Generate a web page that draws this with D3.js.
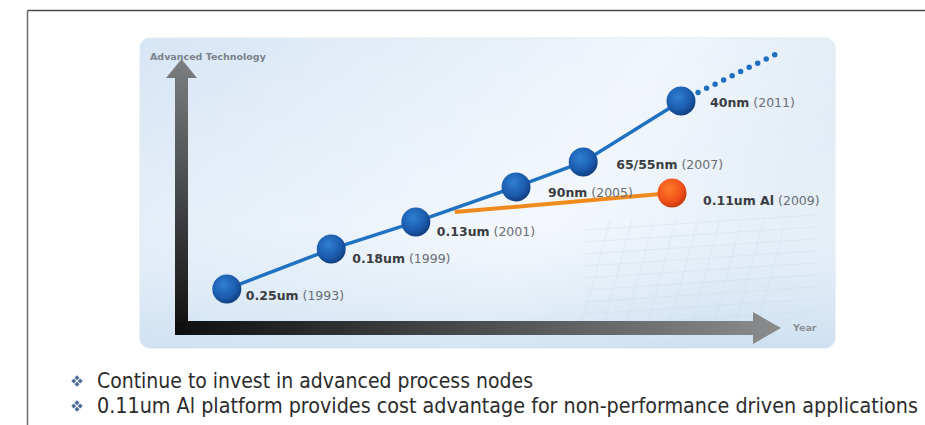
<!DOCTYPE html>
<html>
<head>
<meta charset="utf-8">
<script src="https://cdn.jsdelivr.net/npm/d3@7"></script>
<style>
  html, body { margin: 0; padding: 0; background: #ffffff; }
  svg { display: block; }
</style>
</head>
<body>
<svg id="chart" width="925" height="425"></svg>
<script>
// ---------------- DATA ----------------
const nodeNames    = ["0.25um", "0.18um", "0.13um", "90nm", "65/55nm", "40nm"];
const nodeYears    = ["(1993)", "(1999)", "(2001)", "(2005)", "(2007)", "(2011)"];
const nodeProgress = [7.8, 25.2, 39.3, 56.0, 67.2, 83.5];   // position along time axis (0-100)
const nodeLevel    = [16.4, 30.7, 40.4, 52.9, 61.8, 83.6];  // technology level (0-100)

const alName     = ["0.11um Al"];
const alYear     = ["(2009)"];
const alProgress = [45.8, 82.0];   // branch start, Al node
const alLevel    = [43.9, 50.7];

const futureProgress = [83.5, 99.7];  // dotted extension after 40nm
const futureLevel    = [83.6, 100.7];

const axisYTitle = "Advanced Technology";
const axisXTitle = "Year";
const bullets = [
  "Continue to invest in advanced process nodes",
  "0.11um Al platform provides cost advantage for non-performance driven applications"
];

// ---------------- DRAW ----------------
const svg = d3.select("#chart");
const defs = svg.append("defs");

const x = d3.scaleLinear().domain([0, 100]).range([180, 780]);
const y = d3.scaleLinear().domain([0, 100]).range([335, 55]);

// outer frame lines
svg.append("line").attr("x1", 27.5).attr("y1", 10.5).attr("x2", 925).attr("y2", 10.5)
  .attr("stroke", "#4a4a4a").attr("stroke-width", 1.5);
svg.append("line").attr("x1", 27.5).attr("y1", 10.5).attr("x2", 27.5).attr("y2", 425)
  .attr("stroke", "#6a6a6a").attr("stroke-width", 1.5);

// panel gradient
const pg = defs.append("linearGradient").attr("id", "panelH").attr("x1", 0).attr("x2", 1).attr("y1", 0).attr("y2", 0.3);
pg.append("stop").attr("offset", "0%").attr("stop-color", "#cfe0f3");
pg.append("stop").attr("offset", "35%").attr("stop-color", "#dfebf7");
pg.append("stop").attr("offset", "70%").attr("stop-color", "#eef4fa");
pg.append("stop").attr("offset", "100%").attr("stop-color", "#d9e7f4");
const pv = defs.append("linearGradient").attr("id", "panelV").attr("x1", 0).attr("x2", 0).attr("y1", 0).attr("y2", 1);
pv.append("stop").attr("offset", "0%").attr("stop-color", "#ffffff").attr("stop-opacity", 0.15);
pv.append("stop").attr("offset", "60%").attr("stop-color", "#ffffff").attr("stop-opacity", 0.35);
pv.append("stop").attr("offset", "100%").attr("stop-color", "#c6dcf0").attr("stop-opacity", 0.6);

svg.append("rect").attr("x", 140).attr("y", 38).attr("width", 695).attr("height", 310)
  .attr("rx", 10).attr("fill", "url(#panelH)").attr("stroke", "#dde7f0").attr("stroke-width", 1);
svg.append("rect").attr("x", 140).attr("y", 38).attr("width", 695).attr("height", 310)
  .attr("rx", 10).attr("fill", "url(#panelV)");

// faint chip pattern in the background (decorative)
const deco = svg.append("g").attr("stroke", "#c4d6e8").attr("stroke-width", 1).attr("opacity", 0.3).attr("fill", "none");
d3.range(0, 9).forEach(i => {
  deco.append("line").attr("x1", 610 + i * 22).attr("y1", 220).attr("x2", 580 + i * 22).attr("y2", 330);
  deco.append("line").attr("x1", 585).attr("y1", 230 + i * 12).attr("x2", 815).attr("y2", 215 + i * 12);
});

// axes arrows
const gv = defs.append("linearGradient").attr("id", "arrV").attr("x1", 0).attr("x2", 0).attr("y1", 0).attr("y2", 1);
gv.append("stop").attr("offset", "0%").attr("stop-color", "#7d7f82");
gv.append("stop").attr("offset", "100%").attr("stop-color", "#0e0e0e");
const gh = defs.append("linearGradient").attr("id", "arrH").attr("x1", 0).attr("x2", 1).attr("y1", 0).attr("y2", 0);
gh.append("stop").attr("offset", "0%").attr("stop-color", "#0e0e0e");
gh.append("stop").attr("offset", "100%").attr("stop-color", "#8a8c8e");

const ax0 = 175, ax1 = 188, ay0 = 321, ay1 = 335;
svg.append("path").attr("fill", "url(#arrV)")
  .attr("d", `M${ax0},${ay1} L${ax0},78 L166,78 L181.5,59 L197,78 L${ax1},78 L${ax1},${ay1} Z`);
svg.append("path").attr("fill", "url(#arrH)")
  .attr("d", `M${ax0},${ay0} L753,${ay0} L753,312 L781,328 L753,344 L753,${ay1} L${ax0},${ay1} Z`);

svg.append("text").attr("x", 150).attr("y", 60).text(axisYTitle)
  .attr("font-family", "DejaVu Sans").attr("font-size", 9.5).attr("font-weight", "bold")
  .attr("fill", "#7c8289");
svg.append("text").attr("x", 793).attr("y", 331).text(axisXTitle)
  .attr("font-family", "DejaVu Sans").attr("font-size", 9.5).attr("font-weight", "bold")
  .attr("fill", "#8a9096");

// gradients for markers
const bg = defs.append("radialGradient").attr("id", "blueBall").attr("cx", "40%").attr("cy", "35%").attr("r", "65%");
bg.append("stop").attr("offset", "0%").attr("stop-color", "#2f7fd2");
bg.append("stop").attr("offset", "70%").attr("stop-color", "#1a5aab");
bg.append("stop").attr("offset", "100%").attr("stop-color", "#123f82");
const og = defs.append("radialGradient").attr("id", "orangeBall").attr("cx", "40%").attr("cy", "35%").attr("r", "65%");
og.append("stop").attr("offset", "0%").attr("stop-color", "#ff7a2a");
og.append("stop").attr("offset", "70%").attr("stop-color", "#f0501a");
og.append("stop").attr("offset", "100%").attr("stop-color", "#c93a0c");

const nodes = nodeNames.map((n, i) => ({ name: n, year: nodeYears[i], px: nodeProgress[i], lv: nodeLevel[i] }));
const line = d3.line().x(d => x(d[0])).y(d => y(d[1]));

// dotted future
svg.append("path")
  .attr("d", line(futureProgress.map((p, i) => [p, futureLevel[i]])))
  .attr("fill", "none").attr("stroke", "#1f6fc0").attr("stroke-width", 5.5)
  .attr("stroke-linecap", "round").attr("stroke-dasharray", "0,9.5");

// orange branch
svg.append("path")
  .attr("d", line(alProgress.map((p, i) => [p, alLevel[i]])))
  .attr("fill", "none").attr("stroke", "#f08a1c").attr("stroke-width", 4);

// main blue line
svg.append("path")
  .attr("d", line(nodes.map(d => [d.px, d.lv])))
  .attr("fill", "none").attr("stroke", "#1f72c2").attr("stroke-width", 3.5);

// node circles
svg.selectAll("circle.node").data(nodes).join("circle")
  .attr("class", "node")
  .attr("cx", d => x(d.px)).attr("cy", d => y(d.lv)).attr("r", 14.5)
  .attr("fill", "url(#blueBall)");

svg.append("circle")
  .attr("cx", x(alProgress[1])).attr("cy", y(alLevel[1])).attr("r", 14.5)
  .attr("fill", "url(#orangeBall)");

// labels
const labelOffsets = [[19, 11], [21, 14], [21, 14], [32, 10], [33, 7], [29, 6]];
const lab = svg.selectAll("text.node").data(nodes).join("text")
  .attr("class", "node")
  .attr("x", (d, i) => x(d.px) + labelOffsets[i][0])
  .attr("y", (d, i) => y(d.lv) + labelOffsets[i][1])
  .attr("font-family", "DejaVu Sans").attr("font-size", 12.5);
lab.append("tspan").attr("font-weight", "bold").attr("fill", "#3a3d42").text(d => d.name);
lab.append("tspan").attr("fill", "#6a6e74").text(d => " " + d.year);

const alText = svg.append("text")
  .attr("x", x(alProgress[1]) + 31).attr("y", y(alLevel[1]) + 12)
  .attr("font-family", "DejaVu Sans").attr("font-size", 12.5);
alText.append("tspan").attr("font-weight", "bold").attr("fill", "#3a3d42").text(alName[0]);
alText.append("tspan").attr("fill", "#6a6e74").text(" " + alYear[0]);

// bullets
const bulletY = [388, 413];
const bulletEnd = [533, 918];
bullets.forEach((t, i) => {
  const cx = 77, cy = bulletY[i] - 7;
  const g = svg.append("g").attr("fill", "#4f6d9c");
  [[0, -3.2], [0, 3.2], [-3.2, 0], [3.2, 0]].forEach(o => {
    g.append("rect").attr("x", cx + o[0] - 1.8).attr("y", cy + o[1] - 1.8)
      .attr("width", 3.6).attr("height", 3.6)
      .attr("transform", `rotate(45 ${cx + o[0]} ${cy + o[1]})`);
  });
  svg.append("text").attr("x", 97).attr("y", bulletY[i]).text(t)
    .attr("font-family", "'DejaVu Sans Condensed', 'DejaVu Sans', sans-serif").attr("font-size", 20.5)
    .attr("fill", "#2c2c2c")
    .attr("textLength", bulletEnd[i] - 97).attr("lengthAdjust", "spacingAndGlyphs");
});
</script>
</body>
</html>
